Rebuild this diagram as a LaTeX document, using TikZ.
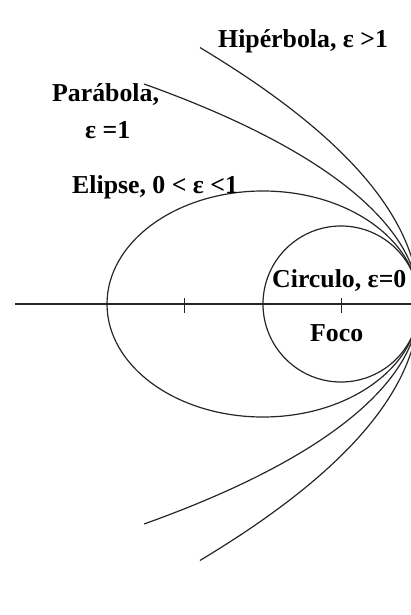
\documentclass[tikz,border=0pt]{standalone}
\usepackage{fontspec}
\setmainfont{Liberation Serif}
\usetikzlibrary{calc}

\begin{document}
\begin{tikzpicture}[
      x=1pt, y=-1pt,
      curva/.style={draw=black!85, line width=1.2pt},
      rotulo/.style={anchor=base west, inner sep=0, font=\fontsize{25.8}{30}\selectfont\bfseries},
      ]

      \useasboundingbox (0, 0) rectangle (411, 615);
      \clip (0, 0) rectangle (411, 615);

      \coordinate (vertice) at (419, 304);
      \coordinate (foco) at (341, 304);
      \coordinate (foco2) at (184, 304);

      % eixo e focos
      \draw[black!85, line width=2pt] (15, 304) -- ($(vertice)+(10,0)$);
      \draw[black!85, line width=1pt] ($(foco)+(0,-6)$) -- ($(foco)+(0,9)$);
      \draw[black!85, line width=1pt] ($(foco2)+(0,-6)$) -- ($(foco2)+(0,9)$);

      % conicas com o mesmo vertice
      \draw[curva] (foco) circle[radius=78pt];
      \draw[curva] (263, 304) ellipse[x radius=156pt, y radius=113pt];
      \draw[curva] plot[domain=-16.58:16.58, samples=90, variable=\t]
            ({419-\t*\t}, {304-\t*sqrt(195-0.069*\t*\t)});
      \draw[curva] plot[domain=-14.8:14.8, samples=90, variable=\t]
            ({419-\t*\t}, {304-\t*sqrt(292.8+0.034*\t*\t)});

      \node[rotulo] (hiperbola) at (218, 48) {Hipérbola, ε >1};
      \node[rotulo] (parabola) at (52, 102) {Parábola,};
      \node[rotulo] (parabolaexc) at (85, 139) {ε =1};
      \node[rotulo] (elipse) at (72, 193) {Elipse, 0 < ε <1};
      \node[rotulo] (circulo) at (272, 287) {Circulo, ε=0};
      \node[rotulo] (focolabel) at (310, 341) {Foco};

\end{tikzpicture}
\end{document}
